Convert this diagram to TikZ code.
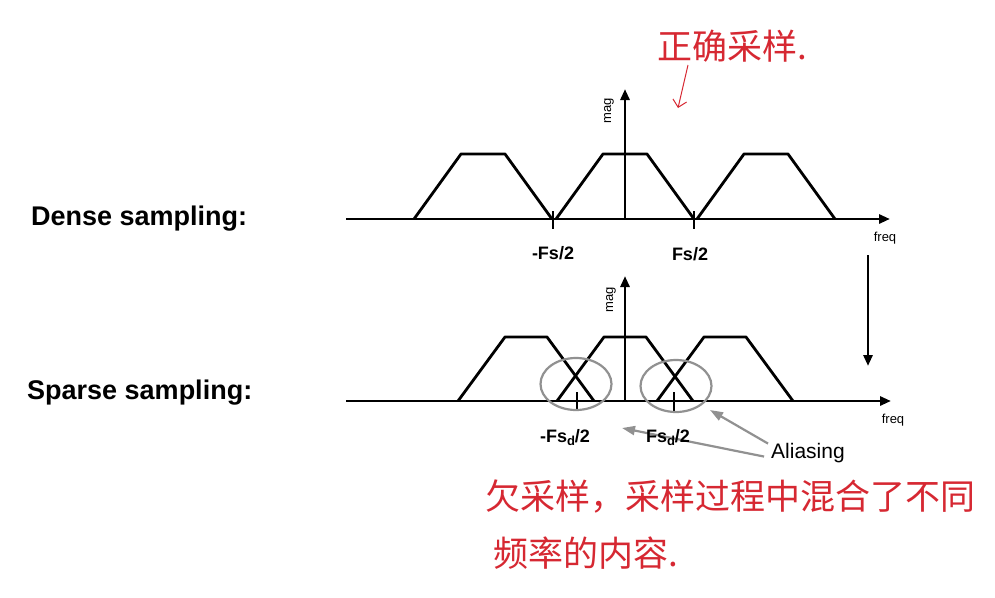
\documentclass[tikz,border=0pt]{standalone}
\usepackage{fontspec}
\setmainfont{Liberation Sans}
\newfontfamily\cjk{Noto Sans CJK SC}
\usepackage{tikz}
\usetikzlibrary{arrows.meta,shapes,positioning,calc}
\definecolor{hand}{RGB}{214,40,50}
\definecolor{ringgray}{RGB}{145,145,145}

\begin{document}
\begin{tikzpicture}[x=1pt,y=-1pt,>={Triangle[length=11pt,width=9pt]},
line join=round]
\tikzstyle{curve}=[line width=2.8pt,black]
\tikzstyle{axis}=[->,line width=2.8pt]
\tikzstyle{title}=[anchor=base west,inner sep=0pt,
font=\fontsize{27}{32}\selectfont\bfseries]
\tikzstyle{fslabel}=[anchor=base,inner sep=0pt,
font=\fontsize{18}{21}\selectfont\bfseries]
\tikzstyle{small}=[inner sep=0pt,font=\fontsize{13}{15}\selectfont]
\tikzstyle{ring}=[ellipse,draw=ringgray,line width=2.2pt,
minimum width=71pt,minimum height=52pt]
\tikzstyle{pointer}=[->,>={Triangle[length=13pt,width=9pt]},
ringgray,line width=2.2pt]
\tikzstyle{note}=[anchor=base west,inner sep=0pt,text=hand,
font=\cjk\fontsize{35}{40}\selectfont]

\useasboundingbox (0,0) rectangle (995,597);

\node[title] (dense) at (31,225) {Dense sampling:};
\node[title] (sparse) at (27,399) {Sparse sampling:};

%dense sampling
\coordinate (O1) at (625,219);
\coordinate (L1) at (346,219);
\coordinate (X1) at (890,219);
\coordinate (Y1) at (625,89);
\draw[axis] (L1) -- (X1);
\draw[axis] (O1) -- (Y1);
\foreach \c in {483,625,766}
  \draw[curve] (\c-69,219) -- (\c-22,154) -- (\c+22,154) -- (\c+69,219);
\draw[curve] (553,211) -- (553,229);
\draw[curve] (694,211) -- (694,229);

\node[small,rotate=90] (mag1) at (609,111) {mag};
\node[small,anchor=base] (freq1) at (885,241) {freq};
\node[fslabel] (mfs) at (553,259) {-Fs/2};
\node[fslabel] (pfs) at (690,260) {Fs/2};

%from dense to sparse
\coordinate (D0) at (868,255);
\coordinate (D1) at (868,366);
\draw[axis] (D0) -- (D1);

%sparse sampling
\coordinate (O2) at (625,401);
\coordinate (L2) at (346,401);
\coordinate (X2) at (891,401);
\coordinate (Y2) at (625,276);
\draw[axis] (L2) -- (X2);
\draw[axis] (O2) -- (Y2);
\foreach \c in {526,625,725}
  \draw[curve] (\c-68,401) -- (\c-21,337) -- (\c+21,337) -- (\c+68,401);
\draw[curve] (577,392) -- (577,411);
\draw[curve] (674,392) -- (674,411);

\node[small,rotate=90] (mag2) at (611,300) {mag};
\node[small,anchor=base] (freq2) at (893,423) {freq};

%aliasing
\node[ring] (EL) at (576,384) {};
\node[ring] (ER) at (676,386) {};
\coordinate (tipR) at (710,410);
\coordinate (tipL) at (622,428);
\node[anchor=base,inner sep=0pt,font=\fontsize{21}{25}\selectfont]
(aliasing) at (808,458) {Aliasing};
\draw[pointer] ($(aliasing.west)+(-3,-9)$) -- (tipR);
\draw[pointer] ($(aliasing.west)+(-7,4)$) -- (tipL);
\node[fslabel] (mfsd) at (565,442)
  {-Fs\raisebox{-0.4ex}{\fontsize{13}{13}\selectfont d}/2};
\node[fslabel] (pfsd) at (668,442)
  {Fs\raisebox{-0.4ex}{\fontsize{13}{13}\selectfont d}/2};

%notes
\node[note] (note1) at (657,59) {正确采样.};
\coordinate (redtip) at (678,108);
\draw[hand,line width=1pt,->,>={Straight Barb[length=7pt]}]
  ($(note1.base west)+(31,6)$) -- (redtip);
\node[note] (note2) at (485,509) {欠采样，采样过程中混合了不同};
\node[note] (note3) at (493,566) {频率的内容.};

\end{tikzpicture}
\end{document}
